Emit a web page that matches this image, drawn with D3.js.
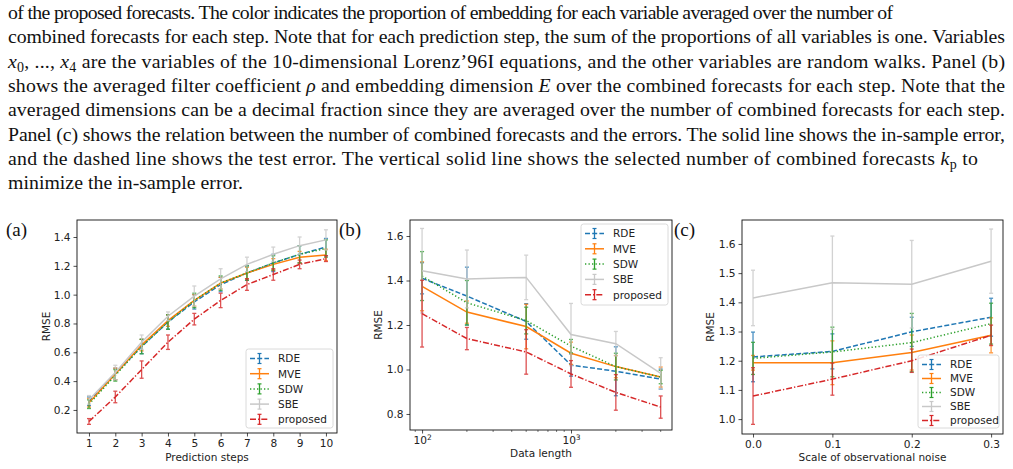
<!DOCTYPE html>
<html>
<head>
<script src="https://d3js.org/d3.v7.min.js"></script>
<style>
  body { margin: 0; background: #fff; }
  .tick text { font-family: "DejaVu Sans"; font-size: 10.6px; fill: #222; }
  .tick line { stroke: #222; stroke-width: 0.8; }
  .axlabel { font-family: "DejaVu Sans"; font-size: 10.5px; fill: #222; }
  .para { font-family: "Liberation Serif"; font-size: 19.8px; fill: #111; }
  .plabel { font-family: "Liberation Serif"; font-size: 19px; fill: #111; }
</style>
</head>
<body>
<svg id="fig" width="1013" height="469"></svg>
<script>
const methods = ["RDE", "MVE", "SDW", "SBE", "proposed"];

// panel (a): RMSE vs prediction steps
const predSteps = [1, 2, 3, 4, 5, 6, 7, 8, 9, 10];
const stepMeans = [
  [0.26, 0.45, 0.64, 0.81, 0.95, 1.07, 1.15, 1.22, 1.28, 1.33],
  [0.25, 0.45, 0.65, 0.82, 0.96, 1.08, 1.15, 1.21, 1.26, 1.275],
  [0.24, 0.44, 0.64, 0.81, 0.96, 1.08, 1.15, 1.22, 1.28, 1.32],
  [0.27, 0.46, 0.67, 0.85, 0.99, 1.11, 1.21, 1.28, 1.34, 1.38],
  [0.12, 0.29, 0.48, 0.67, 0.83, 0.96, 1.07, 1.14, 1.21, 1.25]
];
const stepErrs = [
  [0.03, 0.04, 0.05, 0.05, 0.05, 0.05, 0.05, 0.06, 0.06, 0.06],
  [0.03, 0.04, 0.04, 0.04, 0.04, 0.04, 0.04, 0.04, 0.04, 0.04],
  [0.03, 0.04, 0.05, 0.05, 0.05, 0.05, 0.05, 0.05, 0.06, 0.06],
  [0.03, 0.05, 0.05, 0.03, 0.07, 0.07, 0.05, 0.05, 0.06, 0.07],
  [0.02, 0.04, 0.06, 0.05, 0.04, 0.05, 0.04, 0.04, 0.03, 0.02]
];

// panel (b): RMSE vs data length
const dataLengths = [100, 200, 500, 1000, 2000, 4000];
const lengthMeans = [
  [1.41, 1.33, 1.216, 1.02, 0.992, 0.957],
  [1.374, 1.258, 1.193, 1.073, 1.013, 0.966],
  [1.42, 1.30, 1.22, 1.105, 1.013, 0.966],
  [1.444, 1.407, 1.414, 1.157, 1.116, 0.983],
  [1.251, 1.139, 1.079, 0.98, 0.897, 0.831]
];
const lengthErrs = [
  [0.07, 0.13, 0.08, 0.05, 0.11, 0.045],
  [0.11, 0.05, 0.10, 0.05, 0.05, 0.045],
  [0.11, 0.10, 0.06, 0.03, 0.06, 0.03],
  [0.19, 0.13, 0.10, 0.14, 0.055, 0.07],
  [0.15, 0.05, 0.10, 0.06, 0.08, 0.05]
];

// panel (c): RMSE vs observational noise
const noiseScales = [0.0, 0.1, 0.2, 0.3];
const noiseMeans = [
  [1.213, 1.232, 1.299, 1.349],
  [1.193, 1.193, 1.228, 1.287],
  [1.208, 1.23, 1.262, 1.327],
  [1.415, 1.467, 1.462, 1.541],
  [1.079, 1.137, 1.2, 1.287]
];
const noiseErrs = [
  [0.085, 0.06, 0.05, 0.065],
  [0.025, 0.075, 0.06, 0.06],
  [0.055, 0.085, 0.10, 0.07],
  [0.095, 0.16, 0.15, 0.11],
  [0.097, 0.055, 0.04, 0.035]
];

const colors = ["#1f77b4", "#ff7f0e", "#2ca02c", "#c8c8c8", "#d62728"];
const dashes = ["5,2.2", null, "1.3,2.2", null, "6,2,1.3,2"];

const svg = d3.select("#fig");

// caption text above the panels
const paraLines = [
  { len: 885, parts: [["of the proposed forecasts. The color indicates the proportion of embedding for each variable averaged over the number of"]] },
  { len: 997, parts: [["combined forecasts for each step. Note that for each prediction step, the sum of the proportions of all variables is one. Variables"]] },
  { len: 997, parts: [["x", "i"], ["0", "sub"], [", ..., "], ["x", "i"], ["4", "sub"], [" are the variables of the 10-dimensional Lorenz\u201996I equations, and the other variables are random walks. Panel (b)"]] },
  { len: 997, parts: [["shows the averaged filter coefficient "], ["\u03c1", "i"], [" and embedding dimension "], ["E", "i"], [" over the combined forecasts for each step. Note that the"]] },
  { len: 997, parts: [["averaged dimensions can be a decimal fraction since they are averaged over the number of combined forecasts for each step."]] },
  { len: 997, parts: [["Panel (c) shows the relation between the number of combined forecasts and the errors. The solid line shows the in-sample error,"]] },
  { len: 970, parts: [["and the dashed line shows the test error. The vertical solid line shows the selected number of combined forecasts "], ["k", "i"], ["p", "sub"], [" to"]] },
  { len: 235, parts: [["minimize the in-sample error."]] }
];

paraLines.forEach((ln, i) => {
  const t = svg.append("text").attr("class", "para")
    .attr("x", 8).attr("y", 19 + i * 24.3);
  if (ln.len) t.attr("textLength", ln.len).attr("lengthAdjust", "spacing");
  let shifted = false;
  ln.parts.forEach(([s, kind]) => {
    const ts = t.append("tspan").text(s);
    if (kind === "i") ts.style("font-style", "italic");
    if (kind === "sub") {
      ts.attr("dy", 4).style("font-size", "14px");
      shifted = true;
    } else if (shifted) {
      ts.attr("dy", -4);
      shifted = false;
    }
  });
});

function drawPanel(opt) {
  const { x, y, xs, means, errs } = opt;
  const g = svg.append("g");
  const [x0, x1] = x.range();
  const [y1, y0] = y.range();

  // axes
  const xAxis = d3.axisBottom(x).tickSizeOuter(0).tickSize(3.5).tickPadding(3);
  if (opt.xTicks) xAxis.tickValues(opt.xTicks);
  if (opt.xFormat) xAxis.tickFormat(opt.xFormat);
  const xg = g.append("g").attr("class", "xaxis").attr("transform", `translate(0,${y1})`).call(xAxis);
  xg.select(".domain").remove();

  if (opt.minorTicks) {
    g.append("g").selectAll("line")
      .data(opt.minorTicks)
      .join("line")
      .attr("x1", (d) => x(d)).attr("x2", (d) => x(d))
      .attr("y1", y1).attr("y2", y1 + 2)
      .attr("stroke", "#222").attr("stroke-width", 0.6);
  }

  const yAxis = d3.axisLeft(y).tickValues(opt.yTicks).tickFormat(d3.format(".1f"))
    .tickSizeOuter(0).tickSize(3.5).tickPadding(3);
  const yg = g.append("g").attr("transform", `translate(${x0},0)`).call(yAxis);
  yg.select(".domain").remove();

  g.append("text").attr("class", "axlabel")
    .attr("text-anchor", "middle")
    .attr("x", (x0 + x1) / 2).attr("y", opt.xlabelY)
    .text(opt.xlabel);
  g.append("text").attr("class", "axlabel")
    .attr("text-anchor", "middle")
    .attr("transform", `translate(${opt.ylabelX},${(y0 + y1) / 2}) rotate(-90)`)
    .text("RMSE");

  // series
  const plot = g.append("g");
  methods.forEach((m, k) => {
    const pts = xs.map((v, i) => ({ x: v, y: means[k][i], e: errs[k][i] }));
    const sg = plot.append("g");
    const bars = sg.selectAll("g.eb").data(pts).join("g").attr("class", "eb")
      .attr("stroke", colors[k]).attr("stroke-width", 1.3).attr("opacity", 0.8);
    bars.append("line")
      .attr("x1", (d) => x(d.x)).attr("x2", (d) => x(d.x))
      .attr("y1", (d) => y(d.y - d.e)).attr("y2", (d) => y(d.y + d.e));
    [-1, 1].forEach((s) => {
      bars.append("line")
        .attr("x1", (d) => x(d.x) - 2).attr("x2", (d) => x(d.x) + 2)
        .attr("y1", (d) => y(d.y + s * d.e)).attr("y2", (d) => y(d.y + s * d.e));
    });
    sg.append("path")
      .datum(pts)
      .attr("fill", "none")
      .attr("stroke", colors[k])
      .attr("stroke-width", 1.5)
      .attr("stroke-dasharray", dashes[k])
      .attr("d", d3.line().x((d) => x(d.x)).y((d) => y(d.y)));
  });

  // frame
  g.append("rect")
    .attr("x", x0).attr("y", y0)
    .attr("width", x1 - x0).attr("height", y1 - y0)
    .attr("fill", "none").attr("stroke", "#111").attr("stroke-width", 0.9);

  // legend
  const L = opt.legend;
  const lg = g.append("g").attr("transform", `translate(${L.x},${L.y})`);
  lg.append("rect")
    .attr("x", 0).attr("y", 0).attr("width", L.w).attr("height", L.h)
    .attr("rx", 2.5)
    .attr("fill", "#fff").attr("fill-opacity", 0.85)
    .attr("stroke", "#d6d6d6").attr("stroke-width", 0.9);
  methods.forEach((m, k) => {
    const cy = 9.5 + k * L.step;
    const h = lg.append("g").attr("stroke", colors[k]);
    h.append("line").attr("x1", 4).attr("x2", 23).attr("y1", cy).attr("y2", cy)
      .attr("stroke-width", 1.5).attr("stroke-dasharray", dashes[k]);
    h.append("line").attr("x1", 13.5).attr("x2", 13.5).attr("y1", cy - 5).attr("y2", cy + 5)
      .attr("stroke-width", 1.3);
    [-5, 5].forEach((o) => {
      h.append("line").attr("x1", 11.5).attr("x2", 15.5).attr("y1", cy + o).attr("y2", cy + o)
        .attr("stroke-width", 1.2);
    });
    lg.append("text").attr("class", "axlabel")
      .attr("x", 32).attr("y", cy + 3.8)
      .text(m);
  });

  svg.append("text").attr("class", "plabel")
    .attr("x", opt.tag.x).attr("y", opt.tag.y).text(opt.tag.t);
  return g;
}

// (a)
drawPanel({
  x: d3.scaleLinear().domain([0.545, 10.42]).range([77, 337]),
  y: d3.scaleLinear().domain([0.04, 1.518]).range([433, 220]),
  xs: predSteps, means: stepMeans, errs: stepErrs,
  xTicks: predSteps, xFormat: d3.format("d"),
  yTicks: [0.2, 0.4, 0.6, 0.8, 1.0, 1.2, 1.4],
  xlabel: "Prediction steps", xlabelY: 461, ylabelX: 50,
  legend: { x: 246, y: 349, w: 87, h: 79, step: 15.2 },
  tag: { x: 6, y: 236, t: "(a)" }
});

// (b)
const gb = drawPanel({
  x: d3.scaleLog().domain([Math.pow(10, 1.919), Math.pow(10, 3.678)]).range([410, 672]),
  y: d3.scaleLinear().domain([0.728, 1.672]).range([430, 220]),
  xs: dataLengths, means: lengthMeans, errs: lengthErrs,
  xTicks: [100, 1000], xFormat: () => "10",
  minorTicks: [90, 200, 300, 400, 500, 600, 700, 800, 900, 2000, 3000, 4000],
  yTicks: [0.8, 1.0, 1.2, 1.4, 1.6],
  xlabel: "Data length", xlabelY: 457, ylabelX: 382,
  legend: { x: 581, y: 224, w: 87, h: 81, step: 15.3 },
  tag: { x: 339, y: 236, t: "(b)" }
});
// superscript exponents on log ticks
gb.selectAll(".xaxis .tick text").each(function (d) {
  d3.select(this).append("tspan")
    .attr("dy", -4).style("font-size", "7.5px")
    .text(Math.round(Math.log10(d)));
});

// (c)
drawPanel({
  x: d3.scaleLinear().domain([-0.0139, 0.315]).range([742, 1003]),
  y: d3.scaleLinear().domain([0.949, 1.682]).range([434, 220]),
  xs: noiseScales, means: noiseMeans, errs: noiseErrs,
  xTicks: noiseScales, xFormat: d3.format(".1f"),
  yTicks: [1.0, 1.1, 1.2, 1.3, 1.4, 1.5, 1.6],
  xlabel: "Scale of observational noise", xlabelY: 461, ylabelX: 714,
  legend: { x: 918, y: 355, w: 81, h: 73, step: 14 },
  tag: { x: 674, y: 236, t: "(c)" }
});
</script>
</body>
</html>
